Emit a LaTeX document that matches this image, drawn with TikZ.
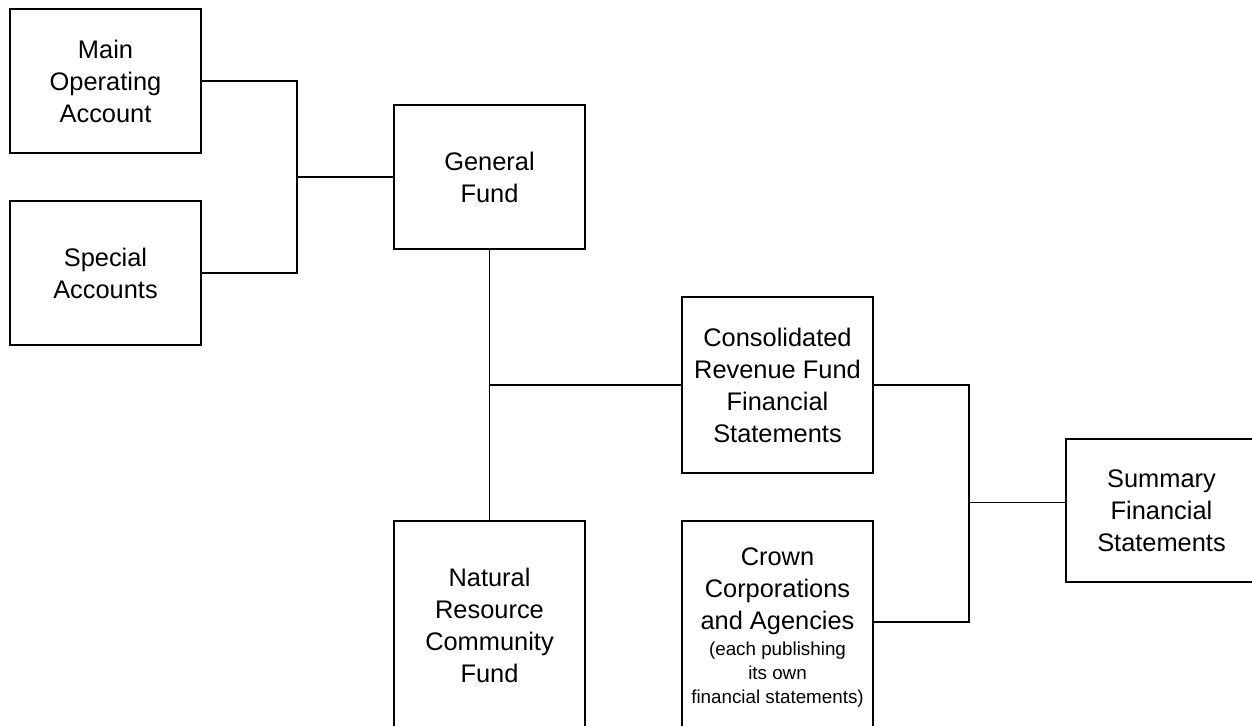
\documentclass[tikz,border=0pt]{standalone}
\usepackage{fontspec}
\setmainfont{Liberation Sans}
\usetikzlibrary{calc,positioning}
\newcommand{\notefont}{\fontsize{9.4}{12}\selectfont}
\tikzset{
  fundbox/.style={
    draw=black,
    line width=0.65pt,
    align=center,
    minimum width=95.5pt,
    inner sep=2pt,
    font=\fontsize{12.7}{16}\selectfont
  },
  link/.style={line width=0.65pt, draw=black}
}

\begin{document}
\begin{tikzpicture}[x=0.5pt, y=-0.5pt]
  \clip (0,0) rectangle (1252,726);

  % accounts feeding the general fund
  \node[fundbox, minimum height=72pt] (main) at (105.5,81) {Main\\Operating\\Account};
  \node[fundbox, minimum height=72pt] (special) at (105.5,273) {Special\\Accounts};
  \node[fundbox, minimum height=72pt] (general) at (489.5,177) {General\\Fund};

  % funds and statements
  \node[fundbox, minimum height=88pt] (crf) at (777.5,385) {Consolidated\\Revenue Fund\\Financial\\Statements};
  \node[fundbox, minimum height=104pt] (nrcf) at (489.5,625) {Natural\\Resource\\Community\\Fund};
  \node[fundbox, minimum height=107pt] (crown) at (777.5,628)
    {Crown\\Corporations\\and Agencies\\[-3pt]\notefont (each publishing\\[-4pt]\notefont its own\\[-4pt]\notefont financial statements)};
  \node[fundbox, minimum height=71.5pt] (summary) at (1161.5,510.5) {Summary\\Financial\\Statements};

  \coordinate (accts) at (297,177);
  \coordinate (sumjoin) at (969,502.5);

  \draw[link] (main.east) -| (accts) |- (special.east);
  \draw[link] (accts) -- (general.west);
  \draw[link] (general.south) -- (nrcf.north);
  \draw[link] (general.south |- crf.west) -- (crf.west);
  \draw[link] (crf.east) -| (sumjoin) |- ($(crown.east)+(0,-6)$);
  \draw[link] (sumjoin) -- (sumjoin -| summary.west);
\end{tikzpicture}
\end{document}
